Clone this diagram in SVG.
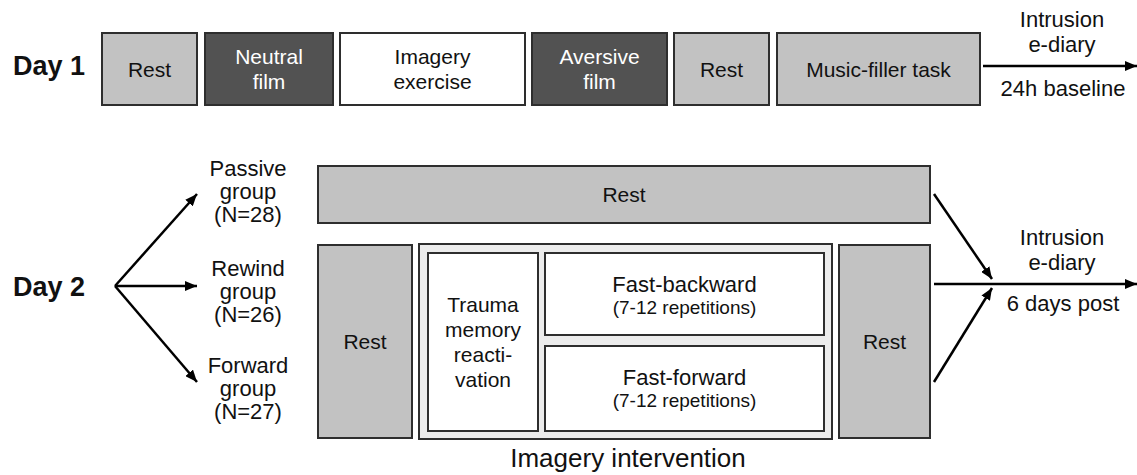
<svg xmlns="http://www.w3.org/2000/svg" width="1137" height="475" viewBox="0 0 1137 475">
<defs>
<marker id="ah" viewBox="0 0 12 10" refX="12" refY="5" markerWidth="12" markerHeight="10" markerUnits="userSpaceOnUse" orient="auto">
<path d="M0,0 L12,5 L0,10 z" fill="#000"/>
</marker>
</defs>
<style>
text{font-family:"Liberation Sans",Arial,sans-serif;fill:#111;text-anchor:middle;font-size:21px}
.day{font-weight:bold;font-size:27px;text-anchor:start}
.lbl{font-size:22px}
.small{font-size:19px}
.big{font-size:26px}
.wt{fill:#fff}
.light{fill:#c2c2c2;stroke:#2e2e2e;stroke-width:2}
.dark{fill:#525252;stroke:#2e2e2e;stroke-width:2}
.white{fill:#fff;stroke:#2e2e2e;stroke-width:2}
.cont{fill:#ececec;stroke:#2e2e2e;stroke-width:2}
.conn{stroke:#000;stroke-width:2.5;fill:none;marker-end:url(#ah)}
</style>
<rect width="1137" height="475" fill="#fff"/>
<text class="day" x="13" y="75">Day 1</text>
<text class="day" x="13" y="296">Day 2</text>
<g id="d1-rest1"><rect class="light" x="102" y="33" width="95" height="72"/><text x="149.5" y="76.5">Rest</text></g>
<g id="d1-neutral"><rect class="dark" x="205" y="33" width="128" height="72"/><text class="wt" x="269" y="64">Neutral</text><text class="wt" x="269" y="89">film</text></g>
<g id="d1-imagery"><rect class="white" x="340" y="33" width="185" height="72"/><text x="432.5" y="64">Imagery</text><text x="432.5" y="89">exercise</text></g>
<g id="d1-aversive"><rect class="dark" x="532" y="33" width="135" height="72"/><text class="wt" x="599.5" y="64">Aversive</text><text class="wt" x="599.5" y="89">film</text></g>
<g id="d1-rest2"><rect class="light" x="674" y="33" width="95" height="72"/><text x="721.5" y="76.5">Rest</text></g>
<g id="d1-music"><rect class="light" x="777" y="33" width="203" height="72"/><text x="878.5" y="76.5">Music-filler task</text></g>
<g id="d1-diary"><text class="lbl" x="1062" y="27">Intrusion</text><text class="lbl" x="1062" y="52">e-diary</text><text class="lbl" x="1063" y="96">24h baseline</text></g>
<g id="passive"><text class="lbl" x="248" y="176">Passive</text><text class="lbl" x="248" y="199">group</text><text class="lbl" x="248" y="222">(N=28)</text></g>
<g id="rewind"><text class="lbl" x="248" y="276">Rewind</text><text class="lbl" x="248" y="299">group</text><text class="lbl" x="248" y="322">(N=26)</text></g>
<g id="forward"><text class="lbl" x="248" y="373">Forward</text><text class="lbl" x="248" y="396">group</text><text class="lbl" x="248" y="419">(N=27)</text></g>
<g id="d2-rest-top"><rect class="light" x="318" y="166" width="612" height="57"/><text x="624" y="202">Rest</text></g>
<g id="d2-rest-left"><rect class="light" x="318" y="245" width="94" height="193"/><text x="365" y="349">Rest</text></g>
<g id="d2-imagery"><rect class="cont" x="419" y="244" width="413" height="195"/><text class="big" x="628" y="467">Imagery intervention</text></g>
<g id="d2-trauma"><rect class="white" x="428" y="253" width="110" height="178"/><text x="483" y="312">Trauma</text><text x="483" y="337">memory</text><text x="483" y="362">reacti-</text><text x="483" y="387">vation</text></g>
<g id="d2-fastback"><rect class="white" x="545" y="253" width="279" height="82"/><text class="lbl" x="684.5" y="292">Fast-backward</text><text class="small" x="684.5" y="314">(7-12 repetitions)</text></g>
<g id="d2-fastfwd"><rect class="white" x="545" y="346" width="279" height="85"/><text class="lbl" x="684.5" y="385">Fast-forward</text><text class="small" x="684.5" y="407">(7-12 repetitions)</text></g>
<g id="d2-rest-right"><rect class="light" x="839" y="245" width="91" height="193"/><text x="884.5" y="349">Rest</text></g>
<g id="d2-diary"><text class="lbl" x="1062" y="245">Intrusion</text><text class="lbl" x="1062" y="270">e-diary</text><text class="lbl" x="1063" y="311">6 days post</text></g>
<g id="connectors">
<line class="conn" x1="983" y1="66" x2="1137" y2="66"/>
<line class="conn" x1="115" y1="286" x2="197" y2="194"/>
<line class="conn" x1="115" y1="286" x2="197" y2="286"/>
<line class="conn" x1="115" y1="286" x2="197" y2="382"/>
<line class="conn" x1="934" y1="194" x2="992" y2="279"/>
<line class="conn" x1="934" y1="382" x2="992" y2="288"/>
<line class="conn" x1="934" y1="284" x2="1137" y2="284"/>
</g>
</svg>
